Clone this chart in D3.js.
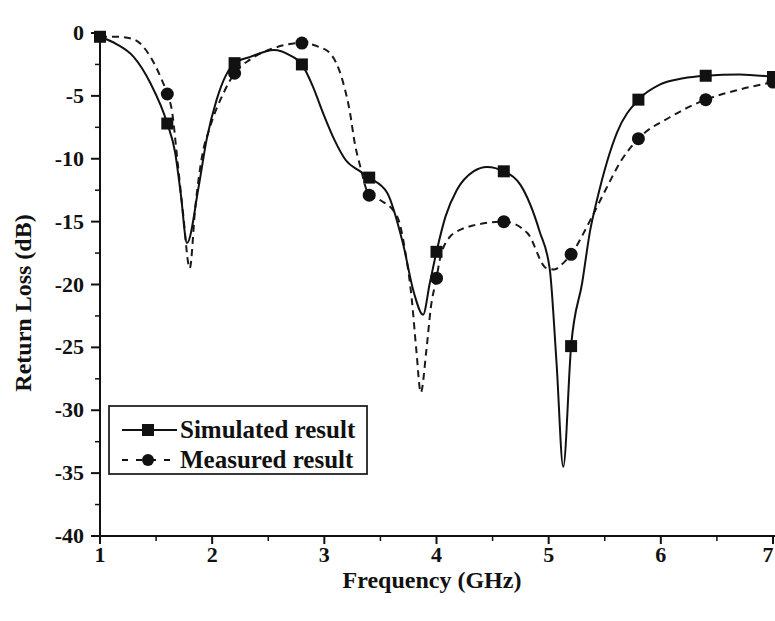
<!DOCTYPE html>
<html>
<head>
<meta charset="utf-8">
<script src="https://cdn.jsdelivr.net/npm/d3@7"></script>
<style>
  html, body { margin: 0; padding: 0; background: #ffffff; }
  svg { display: block; }
  text { font-family: "Liberation Serif", "Times New Roman", serif; font-weight: bold; fill: #111; }
</style>
</head>
<body>
<svg id="chart" width="775" height="621"></svg>
<script>
// ---- data ----
const simFreq = [1.0,1.15,1.3,1.45,1.6,1.67,1.72,1.776,1.88,1.95,2.04,2.2,2.34,2.55,2.69,2.8,2.9,2.99,3.09,3.19,3.32,3.4,3.56,3.70,3.80,3.88,3.94,4.0,4.08,4.18,4.33,4.45,4.6,4.75,4.92,5.01,5.07,5.13,5.2,5.30,5.37,5.43,5.61,5.8,5.99,6.2,6.4,6.7,7.0];
const simLoss = [-0.3,-0.9,-1.9,-4.0,-7.2,-9.5,-12.8,-16.7,-12.2,-8.5,-5.3,-2.4,-1.9,-1.35,-1.75,-2.5,-4.3,-6.4,-8.5,-10.1,-11.0,-11.5,-12.7,-16.7,-20.7,-22.4,-19.9,-17.4,-14.6,-12.5,-11.0,-10.65,-11.0,-12.1,-15.8,-18.8,-26.2,-34.5,-24.9,-19.8,-15.7,-13.3,-7.9,-5.3,-4.1,-3.6,-3.4,-3.3,-3.5];

const measFreq = [1.0,1.15,1.3,1.45,1.54,1.6,1.64,1.69,1.74,1.80,1.85,1.91,1.98,2.10,2.2,2.34,2.55,2.8,2.95,3.05,3.16,3.23,3.27,3.32,3.4,3.5,3.65,3.72,3.78,3.82,3.86,3.91,3.95,4.0,4.03,4.12,4.18,4.33,4.6,4.81,4.98,5.05,5.13,5.2,5.37,5.50,5.65,5.8,6.08,6.4,6.7,7.0];
const measLoss = [-0.3,-0.3,-0.5,-1.9,-3.5,-4.85,-6.1,-10.1,-14.3,-18.7,-13.8,-9.8,-7.5,-4.8,-3.2,-2.1,-1.2,-0.8,-1.1,-1.6,-3.7,-6.4,-8.7,-10.6,-12.9,-13.3,-14.6,-17.3,-21.2,-25.2,-28.6,-25.2,-21.8,-19.5,-18.0,-16.2,-15.8,-15.3,-15.0,-15.9,-18.7,-18.8,-18.3,-17.6,-14.9,-12.6,-10.1,-8.4,-6.7,-5.3,-4.5,-3.9];

const markerFreq = [1.0,1.6,2.2,2.8,3.4,4.0,4.6,5.2,5.8,6.4,7.0];
const simMarkers = [-0.3,-7.2,-2.4,-2.5,-11.5,-17.4,-11.0,-24.9,-5.3,-3.4,-3.5];
const measMarkers = [-0.3,-4.85,-3.2,-0.8,-12.9,-19.5,-15.0,-17.6,-8.4,-5.3,-3.9];

const xTicks = [1,2,3,4,5,6,7];
const xMinor = [1.5,2.5,3.5,4.5,5.5,6.5];
const yTicks = [0,-5,-10,-15,-20,-25,-30,-35,-40];
const yMinor = [-2.5,-7.5,-12.5,-17.5,-22.5,-27.5,-32.5,-37.5];
const seriesNames = ["Simulated result","Measured result"];
const xTitle = "Frequency (GHz)";
const yTitle = "Return Loss (dB)";

// ---- layout ----
const svg = d3.select("#chart");
const x = d3.scaleLinear().domain([1,7]).range([100,773]);
const y = d3.scaleLinear().domain([-40,0]).range([536,33]);

// axes
const xAxis = svg.append("g").attr("transform", `translate(0,${y(-40)})`);
xAxis.append("line").attr("x1", x(1)-1).attr("x2", 775).attr("y1",0).attr("y2",0)
  .attr("stroke","#111").attr("stroke-width",2);
xAxis.selectAll(".mj").data(xTicks).enter().append("line")
  .attr("x1", d=>x(d)).attr("x2", d=>x(d)).attr("y1",0).attr("y2",8)
  .attr("stroke","#111").attr("stroke-width",2);
xAxis.selectAll(".mn").data(xMinor).enter().append("line")
  .attr("x1", d=>x(d)).attr("x2", d=>x(d)).attr("y1",0).attr("y2",5)
  .attr("stroke","#111").attr("stroke-width",1.5);
xAxis.selectAll(".lb").data(xTicks).enter().append("text")
  .attr("x", d=>Math.min(x(d), 768)).attr("y", 26).attr("text-anchor","middle")
  .style("font-size","22px").text(d=>d);

const yAxis = svg.append("g").attr("transform", `translate(${x(1)},0)`);
yAxis.append("line").attr("x1",0).attr("x2",0).attr("y1", y(0)-2).attr("y2", y(-40)+8)
  .attr("stroke","#111").attr("stroke-width",2);
yAxis.selectAll(".mj").data(yTicks).enter().append("line")
  .attr("x1",-9).attr("x2",0).attr("y1", d=>y(d)).attr("y2", d=>y(d))
  .attr("stroke","#111").attr("stroke-width",2);
yAxis.selectAll(".mn").data(yMinor).enter().append("line")
  .attr("x1",-5).attr("x2",0).attr("y1", d=>y(d)).attr("y2", d=>y(d))
  .attr("stroke","#111").attr("stroke-width",1.5);
yAxis.selectAll(".lb").data(yTicks).enter().append("text")
  .attr("x",-16).attr("y", d=>y(d)+7).attr("text-anchor","end")
  .style("font-size","22px").text(d=>d);

// titles
svg.append("text").attr("x", 432).attr("y", 588).attr("text-anchor","middle")
  .style("font-size","24px").text(xTitle);
svg.append("text").attr("transform","translate(31,303) rotate(-90)").attr("text-anchor","middle")
  .style("font-size","24px").text(yTitle);

// lines
const line = d3.line().x(d=>x(d[0])).y(d=>y(d[1])).curve(d3.curveMonotoneX);
const simData = simFreq.map((f,i)=>[f, simLoss[i]]);
const measData = measFreq.map((f,i)=>[f, measLoss[i]]);

svg.append("path").datum(measData).attr("d", line)
  .attr("fill","none").attr("stroke","#1a1a1a").attr("stroke-width",2)
  .attr("stroke-dasharray","7,5");
svg.append("path").datum(simData).attr("d", line)
  .attr("fill","none").attr("stroke","#111").attr("stroke-width",2);

// markers
svg.selectAll(".sq").data(markerFreq.map((f,i)=>[f, simMarkers[i]])).enter().append("rect")
  .attr("x", d=>x(d[0])-6).attr("y", d=>y(d[1])-6).attr("width",12).attr("height",12)
  .attr("fill","#111");
svg.selectAll(".ci").data(markerFreq.map((f,i)=>[f, measMarkers[i]]).slice(1)).enter().append("circle")
  .attr("cx", d=>x(d[0])).attr("cy", d=>y(d[1])).attr("r",6.5)
  .attr("fill","#111");

// legend
const lg = svg.append("g");
lg.append("rect").attr("x",109).attr("y",406).attr("width",258).attr("height",68)
  .attr("fill","#fff").attr("stroke","#222").attr("stroke-width",1.8);
lg.append("line").attr("x1",122).attr("x2",177).attr("y1",430).attr("y2",430)
  .attr("stroke","#111").attr("stroke-width",2);
lg.append("rect").attr("x",142).attr("y",424).attr("width",12).attr("height",12).attr("fill","#111");
lg.append("line").attr("x1",122).attr("x2",177).attr("y1",460).attr("y2",460)
  .attr("stroke","#111").attr("stroke-width",2).attr("stroke-dasharray","6,8");
lg.append("circle").attr("cx",148).attr("cy",460).attr("r",6).attr("fill","#111");
lg.append("text").attr("x",180).attr("y",438).style("font-size","25px").text(seriesNames[0]);
lg.append("text").attr("x",180).attr("y",468).style("font-size","25px").text(seriesNames[1]);
</script>
</body>
</html>
